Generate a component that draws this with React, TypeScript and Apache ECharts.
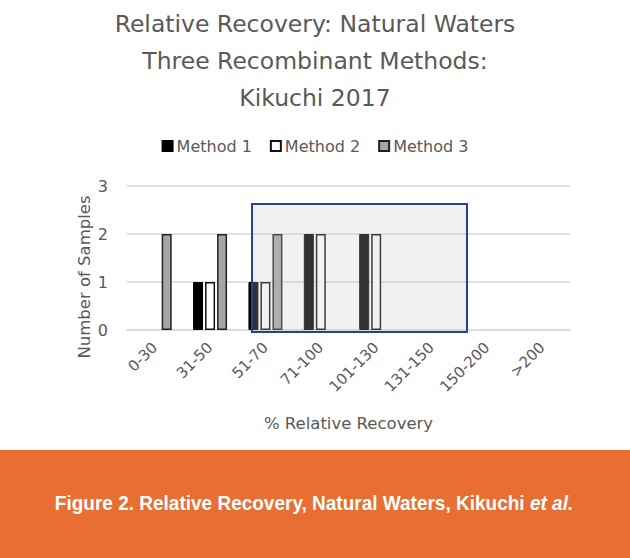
import React, { useEffect, useRef } from "react";
import * as echarts from "echarts";

const categories = ["0-30", "31-50", "51-70", "71-100", "101-130", "131-150", "150-200", ">200"];
const method1 = [0, 1, 1, 2, 2, 0, 0, 0];
const method2 = [0, 1, 1, 2, 2, 0, 0, 0];
const method3 = [2, 2, 2, 0, 0, 0, 0, 0];
const yTicks = { min: 0, max: 3, interval: 1 };

const FONT = "'DejaVu Sans', 'Noto Sans', sans-serif";
const TXT = "#595959";

const toBar = (arr: number[]) => arr.map((v) => (v === 0 ? "-" : v));

export default function App() {
  const ref = useRef<HTMLDivElement>(null);
  useEffect(() => {
    document.body.style.margin = "0";
    const chart = echarts.init(ref.current!, null, { renderer: "svg" });
    chart.setOption({
      animation: false,
      backgroundColor: "#ffffff",
      title: {
        text: "Relative Recovery: Natural Waters\nThree Recombinant Methods:\nKikuchi 2017",
        left: "center",
        top: 0,
        textStyle: { fontFamily: FONT, fontSize: 23.5, fontWeight: "normal", color: TXT, lineHeight: 37 },
      },
      legend: {
        top: 133,
        left: "center",
        itemWidth: 10,
        itemHeight: 10,
        itemGap: 18,
        icon: "rect",
        textStyle: { fontFamily: FONT, fontSize: 16, color: TXT, padding: [0, 0, 0, -1] },
        data: ["Method 1", "Method 2", "Method 3"],
      },
      grid: { left: 127, right: 60, top: 186, bottom: 228 },
      xAxis: {
        type: "category",
        data: categories,
        axisLine: { lineStyle: { color: "#d9d9d9", width: 1.5 } },
        axisTick: { show: false },
        axisLabel: { rotate: 45, margin: 15, fontFamily: FONT, fontSize: 15, color: TXT, interval: 0 },
        name: "% Relative Recovery",
        nameLocation: "middle",
        nameGap: 85,
        nameTextStyle: { fontFamily: FONT, fontSize: 16.5, color: TXT },
      },
      yAxis: {
        type: "value",
        min: yTicks.min,
        max: yTicks.max,
        interval: yTicks.interval,
        axisLine: { show: false },
        axisTick: { show: false },
        splitLine: { lineStyle: { color: "#d9d9d9", width: 1.5 } },
        axisLabel: { margin: 19, fontFamily: FONT, fontSize: 16, color: TXT },
      },
      series: [
        {
          name: "Method 1",
          type: "bar",
          data: toBar(method1),
          barWidth: 10,
          barGap: "20%",
          itemStyle: { color: "#000000", borderColor: "#000000", borderWidth: 1 },
        },
        {
          name: "Method 2",
          type: "bar",
          data: toBar(method2),
          barWidth: 10,
          barGap: "20%",
          itemStyle: { color: "#ffffff", borderColor: "#111111", borderWidth: 1.5 },
        },
        {
          name: "Method 3",
          type: "bar",
          data: toBar(method3),
          barWidth: 10,
          barGap: "20%",
          itemStyle: { color: "#a6a6a6", borderColor: "#222222", borderWidth: 1.5 },
        },
      ],
      graphic: [
        {
          type: "text",
          rotation: Math.PI / 2,
          x: 84,
          y: 277,
          style: {
            text: "Number of Samples",
            fontFamily: FONT,
            fontSize: 16.5,
            fill: TXT,
            textAlign: "center",
            textVerticalAlign: "middle",
          },
        },
        {
          type: "rect",
          z: 100,
          shape: { x: 252, y: 204, width: 215, height: 128 },
          style: { fill: "rgba(200,200,200,0.25)", stroke: "#23458f", lineWidth: 2 },
        },
        {
          type: "rect",
          z: 100,
          shape: { x: 0, y: 450, width: 630, height: 108 },
          style: { fill: "#e86f31" },
        },
        {
          type: "text",
          z: 101,
          x: 314,
          y: 503,
          scaleX: 0.95,
          style: {
            text: "Figure 2. Relative Recovery, Natural Waters, Kikuchi {i|et al.}",
            fontFamily: "'Liberation Sans', Arial, sans-serif",
            fontSize: 20,
            fontWeight: "bold",
            fill: "#ffffff",
            textAlign: "center",
            textVerticalAlign: "middle",
            rich: {
              i: {
                fontFamily: "'Liberation Sans', Arial, sans-serif",
                fontSize: 20,
                fontWeight: "bold",
                fontStyle: "italic",
                fill: "#ffffff",
              },
            },
          },
        },
      ],
    });
    return () => chart.dispose();
  }, []);
  return <div ref={ref} style={{ width: 630, height: 558 }} />;
}
